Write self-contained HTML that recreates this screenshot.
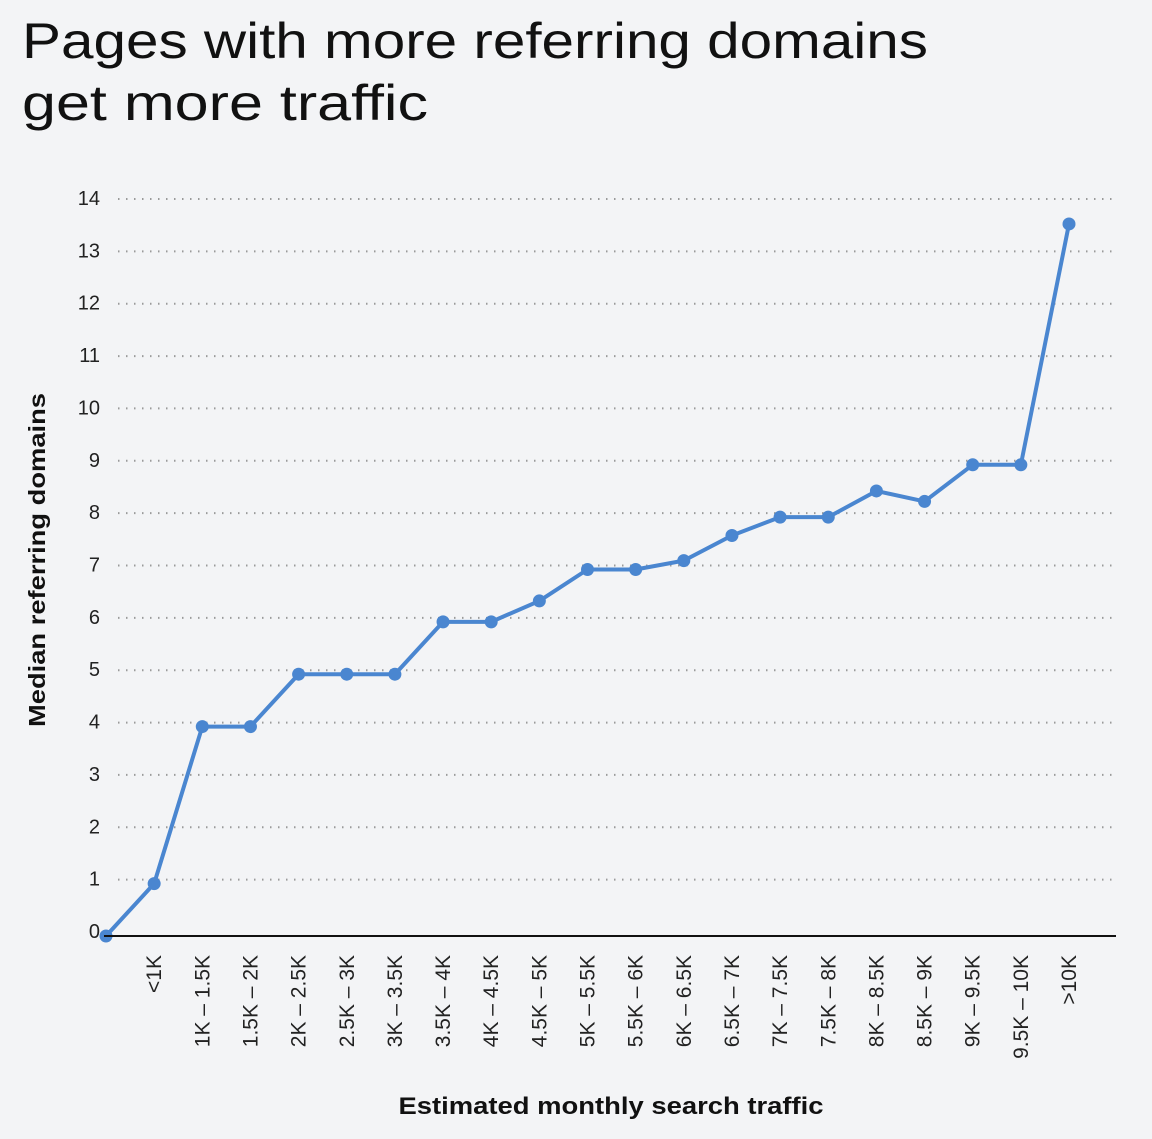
<!DOCTYPE html>
<html><head><meta charset="utf-8"><style>
body{margin:0;background:#f3f4f6;}
svg{display:block;font-family:"Liberation Sans",sans-serif;}
</style></head><body>
<svg width="1152" height="1139">
<rect width="1152" height="1139" fill="#f3f4f6"/>
<text x="22" y="58" font-size="50" fill="#111" textLength="906" lengthAdjust="spacingAndGlyphs">Pages with more referring domains</text>
<text x="22" y="120" font-size="50" fill="#111" textLength="406" lengthAdjust="spacingAndGlyphs">get more traffic</text>
<g id="grid"></g><g id="yt"></g><g id="xt"></g><g id="series"></g>
<line x1="104" y1="936" x2="1116" y2="936" stroke="#111" stroke-width="2"/>
<text transform="translate(45,560) rotate(-90)" text-anchor="middle" font-size="23" font-weight="bold" fill="#111" textLength="334" lengthAdjust="spacingAndGlyphs">Median referring domains</text>
<text x="611" y="1114" text-anchor="middle" font-size="24" font-weight="bold" fill="#111" textLength="425" lengthAdjust="spacingAndGlyphs">Estimated monthly search traffic</text>
</svg>
<script>
const categories=["","<1K","1K – 1.5K","1.5K – 2K","2K – 2.5K","2.5K – 3K","3K – 3.5K","3.5K – 4K","4K – 4.5K","4.5K – 5K","5K – 5.5K","5.5K – 6K","6K – 6.5K","6.5K – 7K","7K – 7.5K","7.5K – 8K","8K – 8.5K","8.5K – 9K","9K – 9.5K","9.5K – 10K",">10K"];
const values=[0,1,4,4,5,5,5,6,6,6.4,7,7,7.17,7.65,8,8,8.5,8.3,9,9,13.6];
const yTicks=[0,1,2,3,4,5,6,7,8,9,10,11,12,13,14];
const NS="http://www.w3.org/2000/svg";
const x=i=>106+i*(1069-106)/(categories.length-1);
const y=v=>936-v*(936-203)/14;
function mk(t,a,p){const e=document.createElementNS(NS,t);for(const k in a)e.setAttribute(k,a[k]);p.appendChild(e);return e;}
const grid=document.getElementById('grid'),yt=document.getElementById('yt'),xt=document.getElementById('xt'),s=document.getElementById('series');
yTicks.forEach(v=>{
 if(v>0){const l=mk('line',{x1:118,x2:1116,y1:y(v)-4,y2:y(v)-4,stroke:'#9a9a9a','stroke-width':2,'stroke-dasharray':'1.5 6.5'},grid);
 
 }
 const t=mk('text',{x:100,y:y(v)+2,'text-anchor':'end','font-size':20,fill:'#222'},yt);t.textContent=v;
 
 
});
categories.forEach((c,i)=>{if(!c)return;
 const t=mk('text',{transform:`translate(${x(i)+7},955) rotate(-90)`,'text-anchor':'end','font-size':21,fill:'#222'},xt);t.textContent=c;
 
 
});
const pl=mk('polyline',{points:values.map((v,i)=>x(i)+','+y(v)).join(' '),fill:'none',stroke:'#4a86d0','stroke-width':4,'stroke-linejoin':'round'},s);


values.forEach((v,i)=>{const c=mk('circle',{cx:x(i),cy:y(v),r:6.5,fill:'#4a86d0'},s);
 
 
});
</script>
</body></html>
